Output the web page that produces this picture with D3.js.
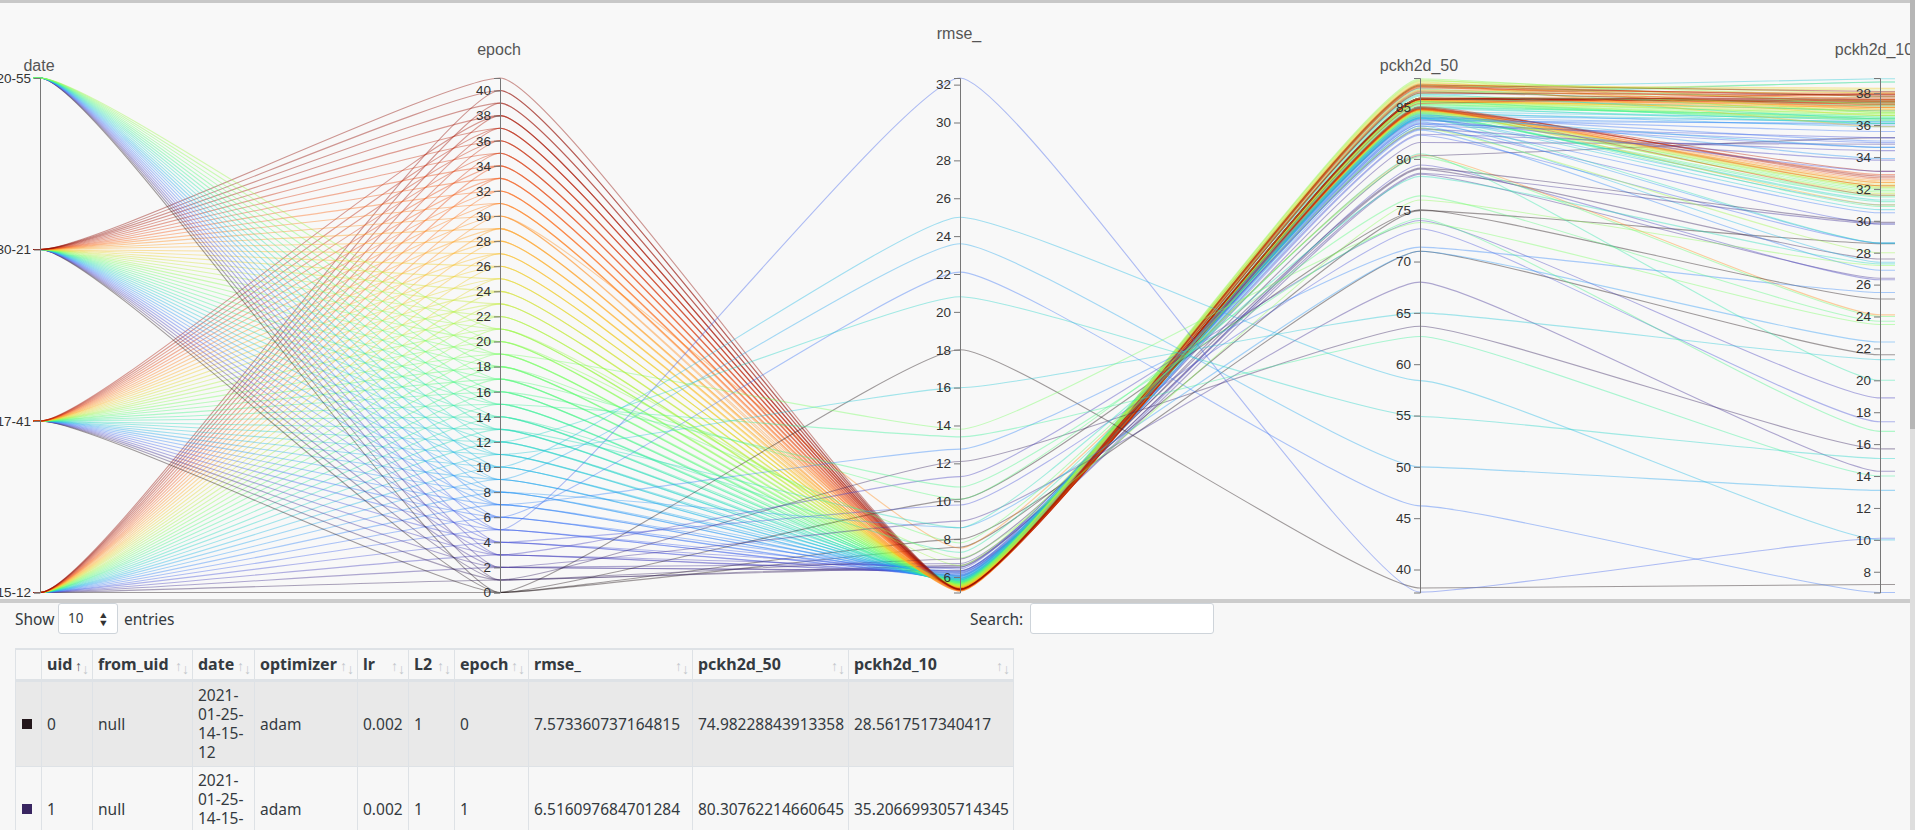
<!DOCTYPE html>
<html>
<head>
<meta charset="utf-8">
<script src="https://cdnjs.cloudflare.com/ajax/libs/d3/7.8.5/d3.min.js"></script>
<style>
html, body { margin: 0; padding: 0; width: 1915px; height: 830px; overflow: hidden; background: #f7f7f7; }
body { position: relative; font-family: "Noto Sans", sans-serif; color: #343a40; }
#topline { position: absolute; left: 0; top: 0; width: 100%; height: 3px; background: #c8c8c8; }
#band { position: absolute; left: 0; top: 599px; width: 100%; height: 4px; background: #cccccc; }
#chart { position: absolute; left: 0; top: 3px; width: 1910px; height: 596px; background: #f8f8f8; overflow: hidden; }
#chart svg { position: absolute; left: 0; top: -3px; }
#scrollbar { position: absolute; left: 1910px; top: 0; width: 5px; height: 830px; background: #dedede; }
#thumb { position: absolute; left: 0; top: 0; width: 5px; height: 429px; background: #b6b6b6; }
.lbl { position: absolute; font-size: 15.5px; line-height: 20px; top: 609px; }
.box { position: absolute; top: 603px; height: 29px; background: #fff; border: 1px solid #ced4da; border-radius: 3px; box-sizing: content-box; }
#sel { left: 58px; width: 58px; }
#selval { position: absolute; left: 68px; top: 603px; font-size: 13.5px; line-height: 31px; }
#selarrows { position: absolute; left: 99px; top: 611px; font-size: 9px; line-height: 8px; color: #333; transform: scaleX(1.2); }
#search { left: 1030px; width: 182px; }
#tbl { position: absolute; left: 15px; top: 648px; border-collapse: collapse; table-layout: fixed; font-size: 15.5px; line-height: 19px; }
#tbl th, #tbl td { border: 1px solid #dee2e6; padding: 4px 3px 4px 5px; text-align: left; vertical-align: middle; overflow: hidden; }
#tbl th { border-top-width: 2px; border-bottom-width: 3px; font-size: 16px; font-weight: 700; height: 23px; padding-top: 3px; padding-bottom: 3px; position: relative; white-space: nowrap; }
#tbl tr.odd td { background: #e9e9e9; }
#tbl .up, #tbl .down { position: absolute; font-size: 14px; font-weight: 400; color: #c4c8cc; }
#tbl .up { right: 10px; top: 6px; }
#tbl .down { right: 3px; top: 9px; }
#tbl .swatch { display: block; width: 10px; height: 10px; margin-left: 1px; }
</style>
</head>
<body>
<div id="topline"></div>
<div id="chart"></div>
<div id="band"></div>
<div class="lbl" style="left:15px">Show</div>
<div class="box" id="sel"></div>
<div id="selval">10</div>
<div id="selarrows">&#9650;<br>&#9660;</div>
<div class="lbl" style="left:124px">entries</div>
<div class="lbl" style="left:970px">Search:</div>
<div class="box" id="search"></div>
<table id="tbl"></table>
<div id="scrollbar"><div id="thumb"></div></div>
<script>
const dates = ["2021-01-25-14-15-12", "2021-01-25-14-17-41", "2021-01-25-14-30-21", "2021-01-25-15-20-55"]
const epochTicks = [0,2,4,6,8,10,12,14,16,18,20,22,24,26,28,30,32,34,36,38,40]
const rmseTicks = [6,8,10,12,14,16,18,20,22,24,26,28,30,32]
const p50Ticks = [40,45,50,55,60,65,70,75,80,85]
const p10Ticks = [8,10,12,14,16,18,20,22,24,26,28,30,32,34,36,38]

// one list per run, position in the list is the epoch
const rmseA = [7.57,6.52,6.31,6.19,6.08,6.03,5.94,5.91,5.84,5.82,5.77,5.75,5.71,5.7,5.66,5.65,5.62,5.61,5.6,5.57,5.57,5.54,5.54,5.52,5.52,5.49,5.49,5.47,5.47,5.45,5.45,5.43,5.43,5.41,5.42,5.4,5.4,5.39,5.39,5.38,5.38]
const p50A = [74.98,80.31,81.6,82.4,83.2,83.4,83.9,84.0,84.2,84.5,84.6,84.4,84.9,85.0,85.1,85.0,85.2,85.3,85.3,85.5,85.4,85.5,85.6,85.6,85.6,85.7,85.6,85.7,85.8,85.7,85.8,85.8,85.8,85.9,85.8,85.9,85.9,85.8,85.9,85.9,85.9]
const p10A = [28.56,35.21,34.8,34.4,35.2,34.9,35.6,36.0,36.2,35.9,36.4,36.2,36.3,36.1,36.5,36.6,36.4,36.5,36.3,36.7,36.6,36.4,36.7,36.8,37.0,36.9,37.1,36.9,37.2,37.1,37.3,37.2,37.4,37.3,37.5,37.4,37.4,37.5,37.6,37.5,37.6]

const rmseB = [8.0,6.61,6.33,6.24,6.12,6.05,5.98,5.92,5.87,5.84,5.8,5.76,5.71,5.73,5.66,5.68,5.62,5.63,5.58,5.59,5.54,5.55,5.52,5.5,5.47,5.48,5.45,5.46,5.44,5.42,7.52,5.42,5.4,5.38,5.39,5.36,5.37,5.35,5.34]
const p50B = [71.0,79.0,78.5,79.4,83.0,82.3,83.4,82.8,83.6,84.0,83.2,83.9,84.2,84.0,84.3,84.1,84.4,84.2,84.5,84.4,84.6,84.5,84.7,84.6,84.7,84.8,84.7,84.8,84.8,84.9,80.4,84.8,84.9,85.0,84.8,84.9,85.1,84.9,85.0]
const p10B = [21.6,27.6,26.4,26.3,29.8,28.6,30.5,26.9,28.6,31.0,27.4,30.7,31.3,28.6,31.2,31.5,30.9,31.6,31.9,31.8,32.0,32.1,32.2,31.7,32.1,32.3,32.4,31.0,32.2,32.5,24.1,32.4,32.6,32.2,32.9,31.6,32.7,33.1,32.8]

const rmseC = [10.1,6.95,6.71,6.52,6.43,6.31,6.26,6.18,6.11,6.04,6.01,5.95,5.9,5.85,5.86,5.8,5.77,5.74,5.72,5.68,5.66,5.63,5.6,5.58,5.55,5.48,5.42,5.35,5.3,5.27,5.25,5.26,5.28,5.3,5.31,5.32,5.33,5.34,5.33,5.35,5.34,5.36]
const p50C = [75.05,79.1,78.6,82.9,83.8,83.5,84.1,83.7,84.3,84.0,86.2,86.9,85.9,86.3,86.6,85.6,86.1,86.8,86.4,87.2,87.8,87.6,87.7,87.4,87.1,87.5,87.2,87.3,86.6,87.0,86.7,87.3,87.1,85.9,87.0,86.9,85.4,86.5,87.1,85.8,86.4,87.2]
const p10C = [25.1,29.9,29.8,33.8,33.1,34.6,35.0,36.1,33.9,34.6,38.7,38.9,36.9,36.4,37.2,36.1,37.4,36.8,38.7,37.5,37.3,37.8,36.8,38.0,38.2,36.6,38.3,35.9,37.7,37.0,38.0,37.6,37.1,37.9,37.5,37.9,38.0,37.3,37.8,37.7,37.9,38.1]

const rmseD = [18.0,12.1,8.95,11.3,9.8,32.35,22.1,12.75,8.6,23.6,25.0,16.0,20.8,8.6,7.3,13.4,10.75,10.1,7.8,13.8,7.0,6.6]
const p50D = [38.2,63.7,68.0,74.0,73.2,37.8,46.2,71.4,71.0,50.0,58.4,65.0,54.9,78.3,80.5,62.7,74.2,76.4,80.2,73.8,76.0,83.0]
const p10D = [7.2,15.7,14.3,18.9,17.4,10.1,6.7,25.5,22.4,13.1,10.0,21.3,15.1,27.3,20.0,14.0,16.8,23.7,24.0,23.5,27.2,28.0]

const headers = ["", "uid", "from_uid", "date", "optimizer", "lr", "L2", "epoch", "rmse_", "pckh2d_50", "pckh2d_10"]
const colWidths = [26, 51, 100, 62, 103, 51, 46, 74, 164, 156, 165]
const tableUid = [0, 1]
const tableFrom = ["null", "null"]
const tableDate = ["2021-01-25-14-15-12", "2021-01-25-14-15-12"]
const tableOpt = ["adam", "adam"]
const tableLr = ["0.002", "0.002"]
const tableL2 = ["1", "1"]
const tableEpoch = [0, 1]
const tableRmse = ["7.573360737164815", "6.516097684701284"]
const tableP50 = ["74.98228843913358", "80.30762214660645"]
const tableP10 = ["28.5617517340417", "35.206699305714345"]

function drawParallel(){
    // dimensions for wrapper
    let dimensions = {
        width: 1915,
        height: 599,
        top: 78,
        bottom: 592.5,
    }
    const axisX = {date: 40, epoch: 500, rmse: 960, p50: 1420, p10: 1880}

    const rows = []
    const addRun = (date, rmse, p50, p10) => {
        rmse.forEach((v, i) => rows.push({date: date, epoch: i, rmse: v, p50: p50[i], p10: p10[i]}))
    }
    addRun(dates[0], rmseA, p50A, p10A)
    addRun(dates[1], rmseB, p50B, p10B)
    addRun(dates[2], rmseC, p50C, p10C)
    addRun(dates[3], rmseD, p50D, p10D)

    const yRange = [dimensions.bottom, dimensions.top]
    const yDate = d3.scalePoint().domain(dates).range(yRange)
    const yEpoch = d3.scaleLinear().domain([0, 41]).range(yRange)
    const yRmse = d3.scaleLinear().domain([5.18, 32.35]).range(yRange)
    const yP50 = d3.scaleLinear().domain([37.76, 87.88]).range(yRange)
    const yP10 = d3.scaleLinear().domain([6.7, 38.95]).range(yRange)
    const color = d3.scaleSequential(d3.interpolateTurbo).domain([0, 41])

    const wrapper = d3.select("#chart")
        .append("svg")
        .attr("width", dimensions.width)
        .attr("height", dimensions.height)

    // flat at every axis, straight in between
    const bend = 0.12
    const linePath = d => {
        const pts = [
            [axisX.date, yDate(d.date)],
            [axisX.epoch, yEpoch(d.epoch)],
            [axisX.rmse, yRmse(d.rmse)],
            [axisX.p50, yP50(d.p50)],
            [axisX.p10, yP10(d.p10)],
        ]
        const p = d3.path()
        p.moveTo(pts[0][0] - 7, pts[0][1])
        p.lineTo(pts[0][0], pts[0][1])
        for (let i = 1; i < pts.length; i++) {
            const dx = pts[i][0] - pts[i-1][0]
            p.bezierCurveTo(pts[i-1][0] + dx * bend, pts[i-1][1], pts[i][0] - dx * bend, pts[i][1], pts[i][0], pts[i][1])
        }
        p.lineTo(pts[4][0] + 15, pts[4][1])
        return p.toString()
    }

    wrapper.append("g").selectAll("path")
        .data(rows)
        .join("path")
        .attr("d", linePath)
        .attr("fill", "none")
        .attr("stroke", d => color(d.epoch))
        .attr("stroke-opacity", 0.42)
        .attr("stroke-width", 1.1)

    const axes = [
        {name: "date", x: axisX.date, dy: 7, tx: -1, axis: d3.axisLeft(yDate)},
        {name: "epoch", x: axisX.epoch, dy: 23, tx: -1, axis: d3.axisLeft(yEpoch).tickValues(epochTicks)},
        {name: "rmse_", x: axisX.rmse, dy: 39, tx: -1, axis: d3.axisLeft(yRmse).tickValues(rmseTicks)},
        {name: "pckh2d_50", x: axisX.p50, dy: 7, tx: -1, axis: d3.axisLeft(yP50).tickValues(p50Ticks)},
        {name: "pckh2d_10", x: axisX.p10, dy: 23, tx: -6, axis: d3.axisLeft(yP10).tickValues(p10Ticks)},
    ]
    axes.forEach(a => {
        const g = wrapper.append("g")
            .attr("transform", `translate(${a.x},0)`)
            .call(a.axis)
        g.selectAll("text").style("font-family", '"Liberation Sans", Arial, sans-serif').style("font-size", "13.5px").attr("fill", "#333")
        g.selectAll("path, line").attr("stroke", "#777")
        g.append("text")
            .attr("x", a.tx)
            .attr("y", dimensions.top - a.dy)
            .attr("text-anchor", "middle")
            .attr("fill", "#555")
            .style("font-family", '"Liberation Sans", Arial, sans-serif')
            .style("font-size", "16px")
            .text(a.name)
    })

    // table under the plot
    const table = d3.select("#tbl")
    table.style("width", d3.sum(colWidths) + "px")
    table.append("colgroup").selectAll("col")
        .data(colWidths)
        .join("col")
        .style("width", d => d + "px")
    const th = table.append("thead").append("tr").selectAll("th")
        .data(headers)
        .join("th")
        .text(d => d)
    const sortable = th.filter(d => d !== "")
    sortable.append("span").attr("class", "up").style("color", d => d === "uid" ? "#555" : null).text("\u2191")
    sortable.append("span").attr("class", "down").text("\u2193")

    const body = table.append("tbody").selectAll("tr")
        .data(tableUid)
        .join("tr")
        .attr("class", (d, i) => i % 2 ? "even" : "odd")
    body.append("td").append("span").attr("class", "swatch").style("background", (d, i) => color(tableEpoch[i]))
    const cols = [tableUid, tableFrom, tableDate, tableOpt, tableLr, tableL2, tableEpoch, tableRmse, tableP50, tableP10]
    cols.forEach(col => {
        body.append("td").text((d, i) => String(col[i]).replace(/-/g, "-\u200b"))
    })
}
drawParallel()
</script>
</body>
</html>
